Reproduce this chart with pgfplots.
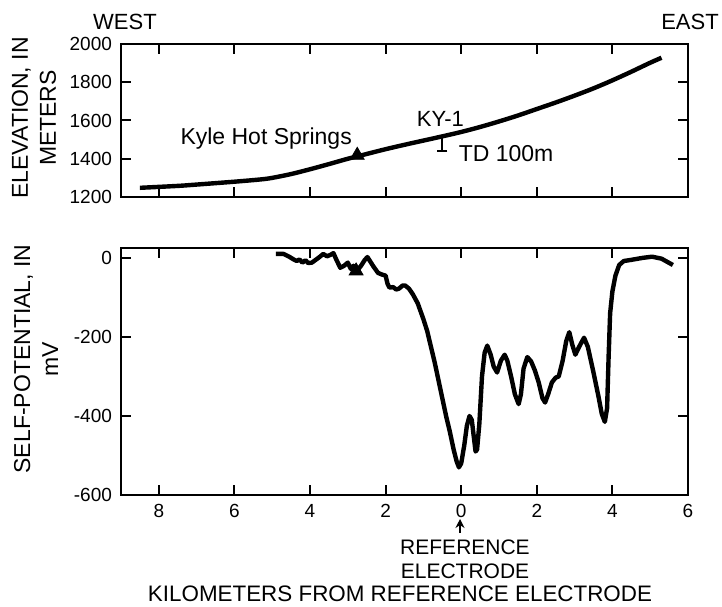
\documentclass[border=0pt]{standalone}
\usepackage{pgfplots}
\pgfplotsset{compat=1.18}
\usetikzlibrary{arrows.meta}
\usepackage{fontspec}
\setmainfont{Liberation Sans}
\begin{document}
\begin{tikzpicture}
\useasboundingbox (0,0) rectangle (361pt,303pt);
\pgfplotsset{
  myax/.style={
    scale only axis, width=283.5pt, xmin=-9, xmax=6,
    anchor=south west, clip=false,
    axis line style={line width=1pt},
    major tick style={line width=1pt, black},
    major tick length=5pt, tick align=inside,
    xtick={-8,-6,-4,-2,0,2,4,6},
    /pgf/number format/assume math mode=true,
    tick label style={font=\fontsize{9.5}{11}\selectfont},
  }
}
% Elevation panel
\begin{axis}[myax, at={(60.5pt,204.5pt)}, height=76.5pt,
  ymin=1200, ymax=2000, ytick={1200,1400,1600,1800,2000},
  yticklabels={1200,1400,1600,1800,2000},
  xticklabels={}, yticklabel style={xshift=-1pt}]
\addplot[line width=2.2pt, smooth, line join=round] coordinates {
(-8.5,1248) (-7.5,1258) (-7,1265) (-6,1280) (-5.3,1292) (-5,1300) (-4.5,1320) (-4,1345)
(-3.5,1372) (-3,1400) (-2.5,1425) (-2,1450) (-1.5,1473) (-1,1495) (-0.5,1517)
(0,1540) (0.5,1566) (1,1595) (1.5,1626) (2,1660) (2.5,1694) (3,1730) (3.5,1768)
(4,1810) (4.5,1855) (5,1902) (5.3,1928)};
\addplot[only marks, mark=triangle*, mark size=4pt] coordinates {(-2.75,1418)};
\addplot[line width=1pt, mark=-, mark size=2.5pt, mark options={line width=1pt}] coordinates {(-0.5,1517) (-0.5,1440)};
\node[font=\fontsize{11.5}{13}\selectfont] at (axis cs:-5.16,1508) {Kyle Hot Springs};
\node[font=\fontsize{11}{13}\selectfont] at (axis cs:-0.55,1608) {KY-1};
\node[font=\fontsize{11.5}{13}\selectfont, anchor=west] at (axis cs:-0.25,1428) {TD 100m};
\end{axis}
% Self-potential panel
\begin{axis}[myax, at={(60.5pt,55.5pt)}, height=123.5pt,
  ymin=-600, ymax=25, ytick={-600,-400,-200,0},
  yticklabels={-600,-400,-200,0},
  xticklabels={8,6,4,2,0,2,4,6}, yticklabel style={xshift=-1pt},
  xticklabel style={yshift=-1pt}]
\addplot[line width=2.2pt, line join=round] coordinates {
(-4.9,10) (-4.7,10) (-4.55,3) (-4.45,-3) (-4.35,-8) (-4.28,-4) (-4.2,-12) (-4.12,-6)
(-4.05,-13) (-3.95,-12) (-3.85,-5) (-3.75,2) (-3.65,10) (-3.55,4) (-3.45,8) (-3.38,12)
(-3.3,-5) (-3.2,-25) (-3.1,-20) (-3.0,-12) (-2.92,-28) (-2.85,-20) (-2.75,-32) (-2.65,-20)
(-2.55,-5) (-2.48,2) (-2.4,-10) (-2.32,-22) (-2.2,-38) (-2.1,-42) (-2.0,-45) (-1.95,-65)
(-1.9,-75) (-1.8,-74) (-1.72,-80) (-1.65,-78) (-1.55,-70) (-1.48,-70) (-1.38,-78)
(-1.28,-92) (-1.15,-115) (-1.0,-155) (-0.9,-185) (-0.8,-225) (-0.7,-265) (-0.6,-310)
(-0.5,-355) (-0.4,-400) (-0.3,-440) (-0.2,-485) (-0.12,-515) (-0.06,-530) (0.0,-520)
(0.08,-475) (0.15,-425) (0.22,-400) (0.28,-410) (0.33,-450) (0.38,-490) (0.42,-485)
(0.48,-420) (0.55,-300) (0.62,-240) (0.69,-222) (0.78,-245) (0.86,-275) (0.95,-290)
(1.05,-260) (1.15,-245) (1.22,-260) (1.32,-300) (1.42,-345) (1.52,-370) (1.58,-345)
(1.65,-280) (1.75,-251) (1.85,-262) (1.95,-285) (2.05,-315) (2.15,-355) (2.22,-366)
(2.3,-345) (2.4,-315) (2.5,-303) (2.58,-300) (2.68,-262) (2.78,-210) (2.86,-188)
(2.94,-220) (3.02,-245) (3.12,-225) (3.25,-202) (3.35,-225) (3.5,-290) (3.63,-350)
(3.72,-395) (3.8,-415) (3.86,-380) (3.9,-250) (3.94,-140) (4.0,-85) (4.08,-45)
(4.18,-18) (4.3,-8) (4.5,-5) (4.8,0) (5.05,3) (5.3,-2) (5.45,-10) (5.6,-18)};
\addplot[only marks, mark=triangle*, mark size=4pt] coordinates {(-2.78,-33)};
\end{axis}
% Labels
\node[rotate=90, align=center, font=\fontsize{11.5}{14}\selectfont] at (17pt,244pt) {ELEVATION, IN\\METERS};
\node[rotate=90, align=center, font=\fontsize{11.5}{14}\selectfont] at (18pt,123.5pt) {SELF-POTENTIAL, IN\\mV};
\node[font=\fontsize{11}{13}\selectfont] at (62.5pt,292pt) {WEST};
\node[font=\fontsize{11}{13}\selectfont] at (345pt,292pt) {EAST};
\draw[-{Stealth[length=4.5pt,width=4.5pt]}, line width=1pt] (230pt,36.5pt) -- (230pt,43.5pt);
\node[font=\fontsize{10.5}{12}\selectfont] at (232.5pt,29.5pt) {REFERENCE};
\node[font=\fontsize{10.5}{12}\selectfont] at (232.5pt,17.5pt) {ELECTRODE};
\node[font=\fontsize{11.2}{13}\selectfont] at (200pt,6pt) {KILOMETERS FROM REFERENCE ELECTRODE};
\end{tikzpicture}
\end{document}
